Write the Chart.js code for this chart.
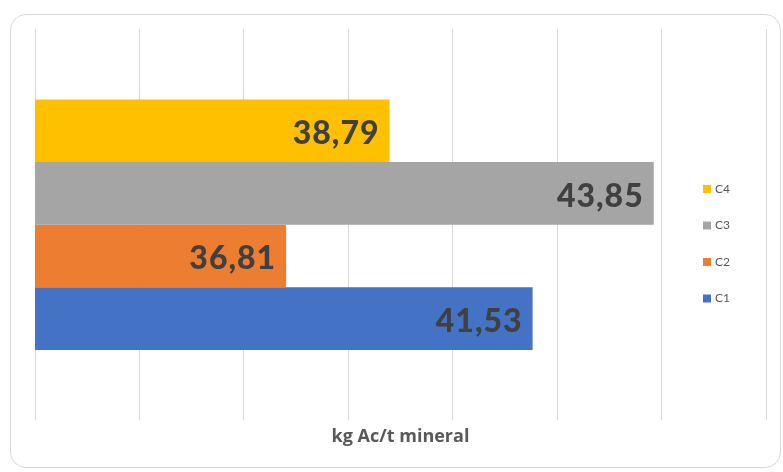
<!DOCTYPE html>
<html>
<head>
<meta charset="utf-8">
<script src="https://cdn.jsdelivr.net/npm/chart.js@4/dist/chart.umd.min.js"></script>
<style>
    html, body { margin: 0; padding: 0; background: #ffffff; }
    #wrap { position: relative; width: 783px; height: 472px; }
    #frame {
        position: absolute; left: 10px; top: 14px; width: 769px; height: 452px;
        border: 1px solid #d9d9d9; border-radius: 16px;
    }
    #distChart { position: absolute; left: 0; top: 0; }
</style>
</head>
<body>
<div id="wrap">
    <div id="frame"></div>
    <canvas id="distChart" width="783" height="472"></canvas>
</div>
<script>
// Datos del gráfico
const categorias = ['kg Ac/t mineral'];
const series = ['C1', 'C2', 'C3', 'C4'];
const valores = [41.53, 36.81, 43.85, 38.79];
const colores = ['#4472c4', '#ed7d31', '#a5a5a5', '#ffc000'];
const ejeMin = 32;
const ejeMax = 46;
const ejePaso = 2;

// C4 arriba, C1 abajo
const datasets = series.map((nombre, i) => ({
    label: nombre,
    data: [valores[i]],
    backgroundColor: colores[i],
    borderWidth: 0,
    barPercentage: 1,
    categoryPercentage: 0.64
})).reverse();

// Etiquetas de valor dentro del extremo de cada barra
const etiquetasValor = {
    id: 'etiquetasValor',
    afterDatasetsDraw(chart) {
        const ctx = chart.ctx;
        ctx.save();
        ctx.font = '900 32px Lato';
        ctx.letterSpacing = '1px';
        ctx.fillStyle = '#404040';
        ctx.textAlign = 'right';
        ctx.textBaseline = 'middle';
        chart.data.datasets.forEach((ds, i) => {
            chart.getDatasetMeta(i).data.forEach((bar, j) => {
                const texto = ds.data[j].toFixed(2).replace('.', ',');
                ctx.fillText(texto, bar.x - 10, bar.y + 3);
            });
        });
        ctx.restore();
    }
};

// Leyenda dibujada sobre el área del gráfico, a la derecha
const leyendaDerecha = {
    id: 'leyendaDerecha',
    afterDraw(chart) {
        const ctx = chart.ctx;
        ctx.save();
        ctx.font = '12px Lato';
        ctx.textBaseline = 'middle';
        chart.data.datasets.forEach((ds, i) => {
            const y = 189 + i * 36.5;
            ctx.fillStyle = ds.backgroundColor;
            ctx.fillRect(703, y - 4, 8, 8);
            ctx.fillStyle = '#595959';
            ctx.fillText(ds.label, 715, y);
        });
        ctx.restore();
    }
};

new Chart(document.getElementById('distChart').getContext('2d'), {
    type: 'bar',
    data: {
        labels: categorias,
        datasets: datasets
    },
    options: {
        indexAxis: 'y',
        responsive: false,
        animation: false,
        layout: {
            padding: { left: 35, right: 17, top: 29, bottom: 24 }
        },
        plugins: {
            legend: { display: false },
            tooltip: { enabled: false }
        },
        scales: {
            x: {
                min: ejeMin,
                max: ejeMax,
                ticks: { display: false, stepSize: ejePaso },
                border: { display: false },
                grid: { color: '#d9d9d9', drawTicks: false },
                title: {
                    display: true,
                    text: 'kg Ac/t mineral',
                    color: '#595959',
                    font: { family: 'Open Sans', size: 18, weight: 'bold' },
                    padding: { top: 6, bottom: 0 }
                }
            },
            y: {
                display: false
            }
        }
    },
    plugins: [etiquetasValor, leyendaDerecha]
});
</script>
</body>
</html>
